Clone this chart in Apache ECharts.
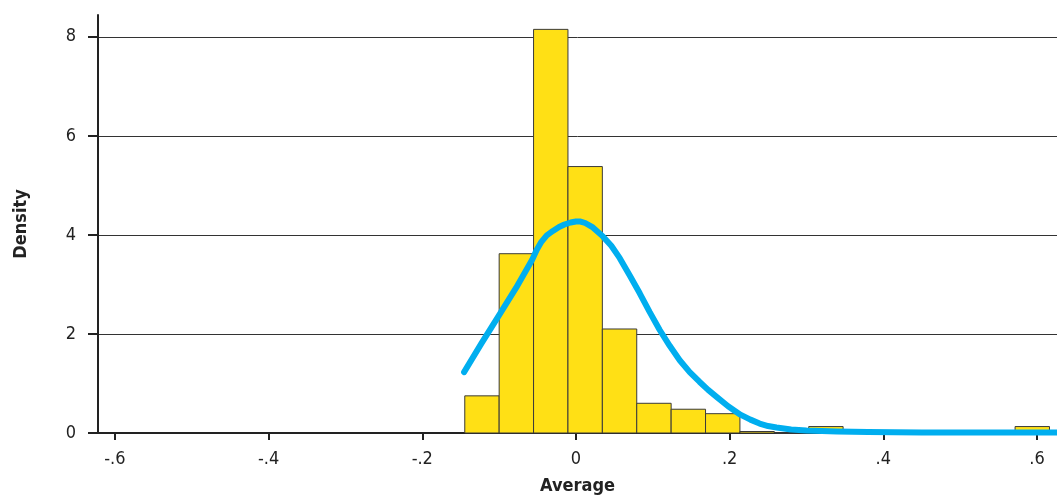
<!DOCTYPE html>
<html>
<head>
<meta charset="utf-8">
<script src="https://cdn.jsdelivr.net/npm/echarts@6/dist/echarts.min.js"></script>
<style>
  html, body { margin: 0; padding: 0; background: #fff; }
  #chart { width: 1057px; height: 495px; }
</style>
</head>
<body>
<div id="chart"></div>
<script>
// Histogram bins: first left edge and common width
const binStart = -0.1447;
const binWidth = 0.04476;
// Density of each bin, left to right
const binDensity = [0.75, 3.62, 8.15, 5.38, 2.10, 0.60, 0.48, 0.39, 0.03, 0, 0.13, 0, 0, 0, 0, 0, 0.13];

// Overlaid density curve: x positions and heights
const curveX = [-0.1456, -0.123, -0.100, -0.078, -0.057, -0.051, -0.045, -0.038, -0.030, -0.022, -0.015,
  -0.007, 0.0, 0.006, 0.012, 0.022, 0.035, 0.046, 0.057, 0.070, 0.083, 0.096, 0.109, 0.122, 0.135,
  0.148, 0.161, 0.172, 0.183, 0.198, 0.214, 0.227, 0.239, 0.250, 0.261, 0.28, 0.30, 0.34, 0.38,
  0.45, 0.55, 0.626];
const curveY = [1.23, 1.81, 2.38, 2.93, 3.50, 3.70, 3.86, 3.99, 4.08, 4.16, 4.21,
  4.25, 4.27, 4.27, 4.24, 4.15, 3.97, 3.78, 3.53, 3.18, 2.82, 2.44, 2.08, 1.76, 1.47,
  1.23, 1.03, 0.87, 0.73, 0.54, 0.37, 0.27, 0.19, 0.14, 0.11, 0.07, 0.05, 0.03, 0.02,
  0.01, 0.01, 0.01];

// Axis ticks and their labels
const xTicks = [-0.6, -0.4, -0.2, 0, 0.2, 0.4, 0.6];
const xTickLabels = ['-.6', '-.4', '-.2', '0', '.2', '.4', '.6'];
const yTicks = [0, 2, 4, 6, 8];

const FONT = '"DejaVu Sans Condensed", "Liberation Sans Narrow", "Liberation Sans", sans-serif';
const INK = '#222';

const bars = binDensity.map((d, i) => [binStart + i * binWidth, binStart + (i + 1) * binWidth, d]);
const curve = curveX.map((x, i) => [x, curveY[i]]);

const chart = echarts.init(document.getElementById('chart'), null, { renderer: 'canvas' });
chart.setOption({
  animation: false,
  backgroundColor: '#fff',
  grid: { left: 98, right: 0, top: 15, bottom: 62, containLabel: false, outerBoundsMode: 'none' },
  xAxis: {
    type: 'value',
    min: -0.622,
    max: 0.626,
    name: 'Average',
    nameLocation: 'middle',
    nameGap: 44,
    nameTextStyle: { fontFamily: FONT, fontWeight: 'bold', fontSize: 18, color: INK },
    axisLine: { show: true, onZero: false, lineStyle: { color: INK, width: 2 } },
    axisTick: { show: true, customValues: xTicks, length: 7, lineStyle: { color: INK, width: 2 } },
    axisLabel: {
      customValues: xTicks,
      margin: 17,
      fontFamily: FONT, fontSize: 18, color: INK,
      formatter: v => xTickLabels[xTicks.findIndex(t => Math.abs(t - v) < 1e-9)]
    },
    splitLine: { show: false }
  },
  yAxis: {
    type: 'value',
    min: 0,
    max: 8.44,
    interval: 2,
    name: 'Density',
    nameLocation: 'middle',
    nameGap: 68,
    nameRotate: 90,
    nameTextStyle: { fontFamily: FONT, fontWeight: 'bold', fontSize: 18, color: INK },
    axisLine: { show: true, onZero: false, lineStyle: { color: INK, width: 2 } },
    axisTick: { show: true, customValues: yTicks, length: 10, lineStyle: { color: INK, width: 2 } },
    axisLabel: { customValues: yTicks, margin: 22, fontFamily: FONT, fontSize: 18, color: INK },
    splitLine: { show: true, showMinLine: false, showMaxLine: true, lineStyle: { color: '#333', width: 1 } }
  },
  series: [
    {
      type: 'custom',
      name: 'Histogram',
      data: bars,
      encode: { x: [0, 1], y: 2 },
      renderItem: (params, api) => {
        const p0 = api.coord([api.value(0), api.value(2)]);
        const p1 = api.coord([api.value(1), 0]);
        return {
          type: 'rect',
          shape: { x: p0[0], y: p0[1], width: p1[0] - p0[0], height: p1[1] - p0[1] },
          style: { fill: '#FFE015', stroke: '#3a3a3a', lineWidth: 1 }
        };
      },
      z: 2
    },
    {
      type: 'line',
      name: 'Density curve',
      data: curve,
      showSymbol: false,
      smooth: false,
      lineStyle: { color: '#00AEEF', width: 6, cap: 'round', join: 'round' },
      z: 3
    }
  ]
});
</script>
</body>
</html>
